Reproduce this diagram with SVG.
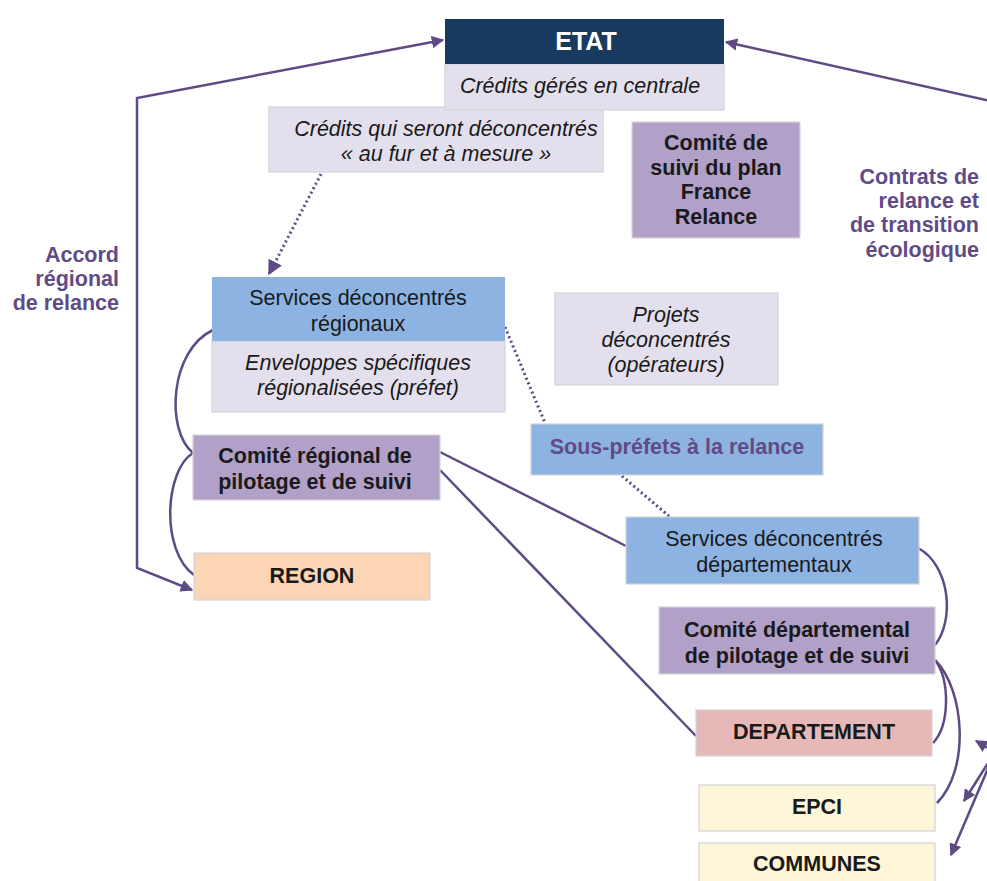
<svg xmlns="http://www.w3.org/2000/svg" width="987" height="881" viewBox="0 0 987 881">
<style>
text{font-family:"Liberation Sans",Arial,sans-serif;font-size:21.5px;text-anchor:middle;fill:#1a1a1a}
.b{font-weight:bold}
.i{font-style:italic}
.w{fill:#ffffff;font-weight:bold;font-size:25px}
.p{fill:#604b86;font-weight:bold}
.lbl{fill:#604b86;font-weight:bold;text-anchor:end}
.box{stroke:#d4d4d8;stroke-width:1.2}
.navy{fill:#193a5f}
.lav{fill:#e4dfec}
.blue{fill:#8db3e2}
.purp{fill:#b1a0c7}
.peach{fill:#fcd5b4}
.pink{fill:#e6b9b8}
.yel{fill:#fdf6d9}
.ln{fill:none;stroke:#5e4a85;stroke-width:2.5}
.dot{fill:none;stroke:#5e4a85;stroke-width:3;stroke-dasharray:2 3}
</style>
<defs>
<marker id="ah" viewBox="0 0 10 10" refX="9" refY="5" markerWidth="5" markerHeight="5" orient="auto-start-reverse" markerUnits="strokeWidth">
<path d="M0,0 L10,5 L0,10 z" fill="#5e4a85"/>
</marker>
</defs>

<g id="connectors">
<polyline class="ln" points="443,40 137,98 137,568 192,590" marker-start="url(#ah)" marker-end="url(#ah)"/>
<line class="ln" x1="990" y1="101" x2="726" y2="42" marker-end="url(#ah)"/>
<line class="dot" x1="321" y1="174" x2="269" y2="274" marker-end="url(#ah)"/>
<line class="dot" x1="505" y1="327" x2="545" y2="423"/>
<line class="dot" x1="622" y1="476" x2="670" y2="517"/>
<path class="ln" d="M213,330 C170,350 165,430 193,453"/>
<path class="ln" d="M193,453 C165,470 160,550 194,575"/>
<line class="ln" x1="440" y1="452" x2="626" y2="546"/>
<line class="ln" x1="440" y1="470" x2="696" y2="736"/>
<path class="ln" d="M918,548 C950,565 955,620 935,645"/>
<path class="ln" d="M935,660 C950,680 950,725 933,743"/>
<path class="ln" d="M935,660 C965,690 970,770 937,803"/>
<line class="ln" x1="995" y1="752" x2="976" y2="741" marker-end="url(#ah)"/>
<line class="ln" x1="995" y1="752" x2="964" y2="801" marker-end="url(#ah)"/>
<line class="ln" x1="995" y1="752" x2="951" y2="855" marker-end="url(#ah)"/>
</g>

<g id="label-accord">
<text class="lbl" x="119" y="262">Accord</text>
<text class="lbl" x="119" y="286">régional</text>
<text class="lbl" x="119" y="310">de relance</text>
</g>
<g id="label-contrats">
<text class="lbl" x="979" y="184">Contrats de</text>
<text class="lbl" x="979" y="208">relance et</text>
<text class="lbl" x="979" y="232">de transition</text>
<text class="lbl" x="979" y="257">écologique</text>
</g>

<g id="credits-deconcentres">
<rect class="box lav" x="269" y="107" width="334" height="65"/>
<text class="i" x="446" y="136">Crédits qui seront déconcentrés</text>
<text class="i" x="446" y="161">« au fur et à mesure »</text>
</g>

<g id="etat">
<rect class="box lav" x="445" y="64" width="279" height="46"/>
<rect class="navy" x="445" y="19" width="279" height="45"/>
<text class="w" x="586" y="50">ETAT</text>
<text class="i" x="580" y="93">Crédits gérés en centrale</text>
</g>

<g id="comite-suivi">
<rect class="box purp" x="632" y="122" width="168" height="116"/>
<text class="b" x="716" y="150">Comité de</text>
<text class="b" x="716" y="175">suivi du plan</text>
<text class="b" x="716" y="199">France</text>
<text class="b" x="716" y="224">Relance</text>
</g>

<g id="services-regionaux">
<rect class="box lav" x="212" y="341" width="293" height="71"/>
<rect class="blue" x="212" y="277" width="293" height="64"/>
<text x="358" y="305">Services déconcentrés</text>
<text x="358" y="331">régionaux</text>
<text class="i" x="358" y="370">Enveloppes spécifiques</text>
<text class="i" x="358" y="395">régionalisées (préfet)</text>
</g>

<g id="projets">
<rect class="box lav" x="555" y="293" width="223" height="92"/>
<text class="i" x="666" y="322">Projets</text>
<text class="i" x="666" y="347">déconcentrés</text>
<text class="i" x="666" y="372">(opérateurs)</text>
</g>

<g id="sous-prefets">
<rect class="box blue" x="531" y="424" width="292" height="51"/>
<text class="p" x="677" y="454">Sous-préfets à la relance</text>
</g>

<g id="comite-regional">
<rect class="box purp" x="193" y="435" width="247" height="65"/>
<text class="b" x="315" y="463">Comité régional de</text>
<text class="b" x="315" y="489">pilotage et de suivi</text>
</g>

<g id="region">
<rect class="box peach" x="194" y="553" width="236" height="47"/>
<text class="b" x="312" y="583">REGION</text>
</g>

<g id="services-departementaux">
<rect class="box blue" x="626" y="517" width="293" height="67"/>
<text x="774" y="546">Services déconcentrés</text>
<text x="774" y="572">départementaux</text>
</g>

<g id="comite-departemental">
<rect class="box purp" x="659" y="607" width="276" height="67"/>
<text class="b" x="797" y="637">Comité départemental</text>
<text class="b" x="797" y="663">de pilotage et de suivi</text>
</g>

<g id="departement">
<rect class="box pink" x="696" y="710" width="236" height="46"/>
<text class="b" x="814" y="739">DEPARTEMENT</text>
</g>

<g id="epci">
<rect class="box yel" x="699" y="785" width="236" height="46"/>
<text class="b" x="817" y="814">EPCI</text>
</g>

<g id="communes">
<rect class="box yel" x="699" y="843" width="236" height="46"/>
<text class="b" x="817" y="871">COMMUNES</text>
</g>
</svg>
